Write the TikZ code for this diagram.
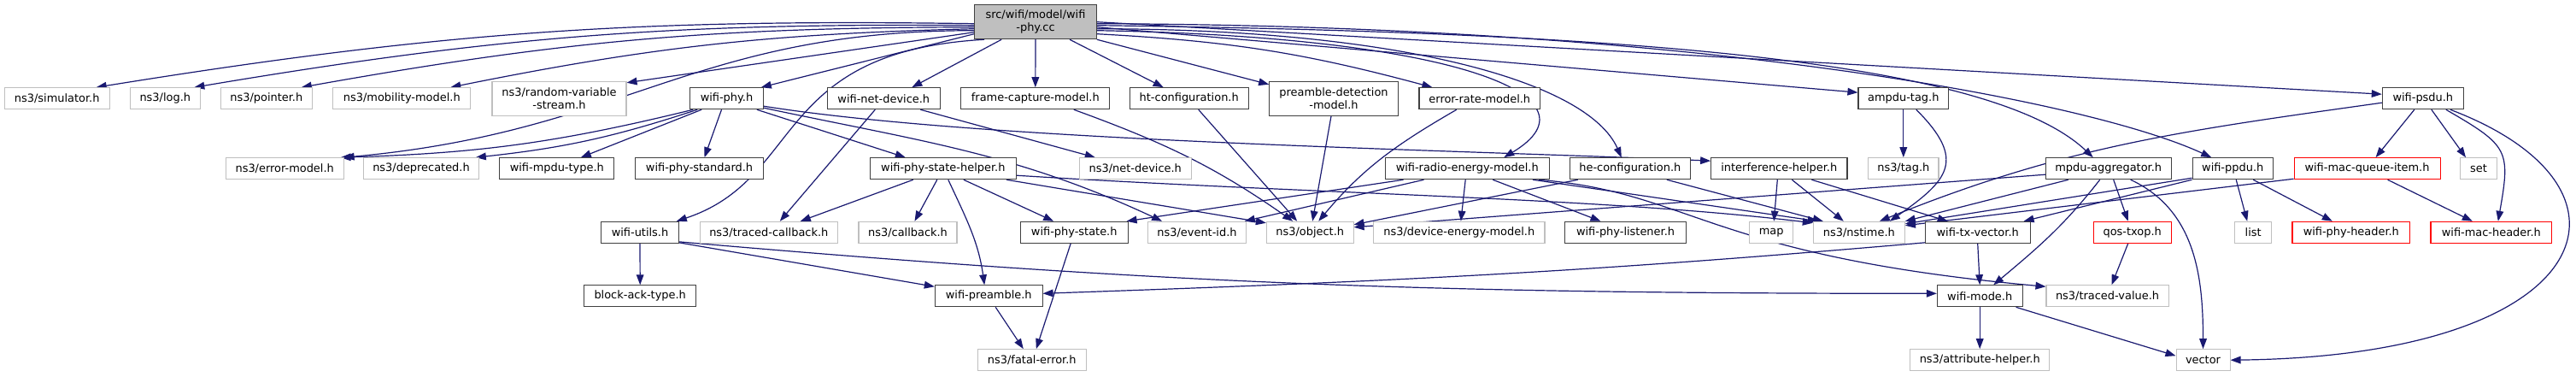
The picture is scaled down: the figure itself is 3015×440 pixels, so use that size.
\documentclass[tikz,border=0pt]{standalone}
\usepackage{fontspec}
\setmainfont{DejaVu Sans}
\usetikzlibrary{arrows.meta,calc}
\pgfdeclarelayer{bg}
\pgfsetlayers{bg,main}
\definecolor{edgec}{HTML}{191970}
\definecolor{blk}{HTML}{404040}
\definecolor{gry}{HTML}{BFBFBF}
\definecolor{rd}{HTML}{FF0000}
\newcommand{\mynode}[6]{\node[#1, minimum width=#5*0.75pt] (#2) at (#3,-#4) {#6};}
\begin{document}
\begin{tikzpicture}[x=0.75pt, y=0.75pt,
 bx/.style={draw, rectangle, fill=white, inner sep=0pt, minimum height=18.75pt, font=\fontsize{9.7}{11.3}\selectfont, align=center, line width=0.8pt},
 nb/.style={bx, draw=blk},
 ng/.style={bx, draw=gry},
 nr/.style={bx, draw=rd},
 tall/.style={minimum height=30pt},
 nroot/.style={bx, draw=blk, fill=gry, minimum height=30pt},
 lk/.style={draw=edgec, line width=0.9pt, -{Triangle[length=9pt,width=6.5pt]}}]
\useasboundingbox (0,0) rectangle (3015,-440);
% row 0
\mynode{nroot}{root}{1212}{25.7}{142.6}{src/wifi/model/wifi\\-phy.cc}
% row 1
\mynode{ng}{sim}{66.7}{115.2}{123.3}{ns3/simulator.h}
\mynode{ng}{log}{193.3}{115.2}{82}{ns3/log.h}
\mynode{ng}{pointer}{311.8}{115.2}{107}{ns3/pointer.h}
\mynode{ng}{mob}{470.3}{115.2}{161.3}{ns3/mobility-model.h}
\mynode{ng,tall}{rvs}{654.5}{115.3}{157}{ns3/random-variable\\-stream.h}
\mynode{nb}{wifiphy}{850.5}{115.2}{85.6}{wifi-phy.h}
\mynode{nb}{netdev}{1034.3}{115.2}{132}{wifi-net-device.h}
\mynode{nb}{framecap}{1211.8}{115.2}{173.7}{frame-capture-model.h}
\mynode{nb}{htconf}{1391.7}{115.2}{138.7}{ht-configuration.h}
\mynode{nb,tall}{preamdet}{1561}{115.3}{150.6}{preamble-detection\\-model.h}
\mynode{nb}{errrate}{1731.8}{115.2}{141.7}{error-rate-model.h}
\mynode{nb}{ampdutag}{2227.8}{115.2}{105.7}{ampdu-tag.h}
\mynode{nb}{psdu}{2835.8}{115.2}{95}{wifi-psdu.h}
% row 2
\mynode{ng}{errmodel}{333.2}{197.2}{137.7}{ns3/error-model.h}
\mynode{ng}{deprecated}{493}{197.2}{134.6}{ns3/deprecated.h}
\mynode{nb}{mpdutype}{651.8}{197.2}{134.3}{wifi-mpdu-type.h}
\mynode{nb}{phystd}{818.5}{197.2}{149.6}{wifi-phy-standard.h}
\mynode{nb}{statehelper}{1103.8}{197.2}{171}{wifi-phy-state-helper.h}
\mynode{ng}{netdevice}{1328.8}{197.2}{131}{ns3/net-device.h}
\mynode{nb}{radio}{1717.2}{197.2}{192.3}{wifi-radio-energy-model.h}
\mynode{nb}{heconf}{1907.8}{197.2}{141}{he-configuration.h}
\mynode{nb}{interf}{2082.3}{197.2}{159.3}{interference-helper.h}
\mynode{ng}{tag}{2227.8}{197.2}{82.3}{ns3/tag.h}
\mynode{nb}{mpduagg}{2467.7}{197.2}{146.7}{mpdu-aggregator.h}
\mynode{nb}{ppdu}{2613.2}{197.2}{94.3}{wifi-ppdu.h}
\mynode{nr}{mqitem}{2770.5}{197.2}{171}{wifi-mac-queue-item.h}
\mynode{ng}{set}{2901}{197.2}{42.6}{set}
% row 3
\mynode{nb}{utils}{749}{271.8}{90.6}{wifi-utils.h}
\mynode{ng}{tcb}{899.8}{271.8}{161}{ns3/traced-callback.h}
\mynode{ng}{callback}{1062.5}{271.8}{115}{ns3/callback.h}
\mynode{nb}{phystate}{1257.2}{271.8}{125.7}{wifi-phy-state.h}
\mynode{ng}{eventid}{1401}{271.8}{114.6}{ns3/event-id.h}
\mynode{ng}{object}{1533.2}{271.8}{101.7}{ns3/object.h}
\mynode{ng}{devenergy}{1707.8}{271.8}{200.3}{ns3/device-energy-model.h}
\mynode{nb}{listener}{1902.5}{271.8}{141.6}{wifi-phy-listener.h}
\mynode{ng}{map}{2073.2}{271.8}{51}{map}
\mynode{ng}{nstime}{2175.8}{271.8}{107}{ns3/nstime.h}
\mynode{nb}{txvector}{2314.7}{271.8}{122.7}{wifi-tx-vector.h}
\mynode{nr}{qostxop}{2495.7}{271.8}{90.7}{qos-txop.h}
\mynode{ng}{list}{2637.2}{271.8}{43}{list}
\mynode{nr}{phyheader}{2751.8}{271.8}{137.7}{wifi-phy-header.h}
\mynode{nr}{macheader}{2915.8}{271.8}{141.7}{wifi-mac-header.h}
% row 4
\mynode{nb}{blockack}{749.2}{346.3}{131}{block-ack-type.h}
\mynode{nb}{preamble}{1157.2}{346.3}{125.7}{wifi-preamble.h}
\mynode{nb}{mode}{2317.2}{346.3}{99.7}{wifi-mode.h}
\mynode{ng}{tracedval}{2466.5}{346.3}{143}{ns3/traced-value.h}
% row 5
\mynode{ng}{fatal}{1207.8}{421.2}{127}{ns3/fatal-error.h}
\mynode{ng}{attr}{2317.2}{421.2}{163}{ns3/attribute-helper.h}
\mynode{ng}{vector}{2578.5}{421.2}{63}{vector}

\begin{pgfonlayer}{bg}
% root
\draw[lk] ($(root.west)+(0,-2)$) to[bend right=5] ($(sim.north)+(46,0)$);
\draw[lk] ($(root.west)+(0,-4)$) to[bend right=5] ($(log.north)+(34,0)$);
\draw[lk] ($(root.west)+(0,-6)$) to[bend right=5] ($(pointer.north)+(41,0)$);
\draw[lk] ($(root.west)+(0,-8)$) to[bend right=5] ($(mob.north)+(57,0)$);
\draw[lk] ($(root.west)+(0,-10)$) .. controls +(-330,0) and +(330,30) .. (errmodel.north east);
\draw[lk] ($(root.west)+(0,-12)$) -- ($(rvs.north east)+(0,-2)$);
\draw[lk] ($(root.west)+(0,-14)$) -- ($(wifiphy.north east)+(-3,0)$);
\draw[lk] ($(root.south west)+(12,0)$) .. controls +(-250,-14) and +(150,50) .. ($(utils.north east)+(-3,0)$);
\draw[lk] ($(root.south west)+(32,0)$) -- ($(netdev.north)+(33,0)$);
\draw[lk] (root.south) -- (framecap.north);
\draw[lk] ($(root.south)+(40,0)$) -- ($(htconf.north)+(-30,0)$);
\draw[lk] (root.south east) -- ($(preamdet.north west)+(0,-4)$);
\draw[lk] ($(root.east)+(0,-14)$) to[bend left=6] ($(errrate.north west)+(16,0)$);
\draw[lk] ($(root.east)+(0,-10)$) .. controls +(417,-7) and +(120,72) .. ($(radio.north)+(43,0)$);
\draw[lk] ($(root.east)+(0,-8)$) .. controls +(350,0) and +(-40,90) .. ($(heconf.north)+(-10,0)$);
\draw[lk] ($(root.east)+(0,-6)$) -- ($(ampdutag.west)+(0,7)$);
\draw[lk] ($(root.east)+(0,-4)$) .. controls +(617,-8) and +(-120,114) .. ($(mpduagg.north)+(-18,0)$);
\draw[lk] ($(root.east)+(0,-2)$) .. controls +(717,-2) and +(-138,64) .. ($(ppdu.north)+(-25,0)$);
\draw[lk] (root.east) -- ($(psdu.west)+(0,5)$);
% wifi-phy.h
\draw[lk] ($(wifiphy.south west)+(4,0)$) to[bend left=6] ($(errmodel.north east)+(-4,0)$);
\draw[lk] ($(wifiphy.south west)+(9,0)$) to[bend left=6] ($(deprecated.north east)+(-4,0)$);
\draw[lk] ($(wifiphy.south west)+(14,0)$) -- ($(mpdutype.north)+(28,0)$);
\draw[lk] ($(wifiphy.south)+(-6,0)$) -- ($(phystd.north)+(6,0)$);
\draw[lk] ($(wifiphy.south east)+(-8,0)$) -- ($(statehelper.north)+(-44,0)$);
\draw[lk] ($(wifiphy.east)+(0,-9)$) .. controls +(257,-41) and +(-303,13) .. ($(interf.west)+(0,9)$);
\draw[lk] ($(wifiphy.east)+(0,-11)$) to[out=-12,in=155] ($(eventid.north west)+(17,0)$);
% wifi-net-device.h
\draw[lk] ($(netdev.south)+(-10,0)$) -- ($(tcb.north)+(13,0)$);
\draw[lk] ($(netdev.south)+(43,0)$) -- ($(netdevice.north)+(-47,0)$);
% to object
\draw[lk] ($(framecap.south)+(45,0)$) to[out=-20,in=145] ($(object.north)+(-20,0)$);
\draw[lk] ($(htconf.south)+(11,0)$) -- ($(object.north)+(-15,0)$);
\draw[lk] ($(preamdet.south)+(-3,0)$) -- ($(object.north)+(3,0)$);
\draw[lk] ($(errrate.south)+(-27,0)$) to[out=210,in=50] ($(object.north)+(10,0)$);
% ampdu-tag.h
\draw[lk] (ampdutag.south) -- (tag.north);
\draw[lk] ($(ampdutag.south)+(15,0)$) to[out=-45,in=35,looseness=1.6] ($(nstime.north)+(36,0)$);
% wifi-psdu.h
\draw[lk] ($(psdu.west)+(0,-5)$) to[out=188,in=22] ($(nstime.north)+(24,0)$);
\draw[lk] ($(psdu.south)+(-10,0)$) -- ($(mqitem.north)+(10,0)$);
\draw[lk] ($(psdu.south)+(10,0)$) -- ($(set.north)+(-15,0)$);
\draw[lk] ($(psdu.south)+(27,0)$) to[out=-30,in=80,looseness=1.5] ($(macheader.north)+(8,0)$);
\draw[lk] ($(psdu.south east)+(-16,0)$) .. controls +(243,-92) and +(430,5) .. (vector.east);
% wifi-phy-state-helper.h
\draw[lk] ($(statehelper.south)+(-35,0)$) -- ($(tcb.north)+(37,0)$);
\draw[lk] ($(statehelper.south)+(-7,0)$) -- ($(callback.north)+(8,0)$);
\draw[lk] ($(statehelper.south)+(6,0)$) to[out=-65,in=98] ($(preamble.north)+(-5,0)$);
\draw[lk] ($(statehelper.south)+(24,0)$) -- ($(phystate.north)+(-24,0)$);
\draw[lk] ($(statehelper.south east)+(-12,0)$) -- ($(object.north west)+(0,-2)$);
\draw[lk] ($(statehelper.east)+(0,-8)$) .. controls +(350,-22) and +(-250,30) .. ($(nstime.north west)+(0,-2)$);
% wifi-radio-energy-model.h
\draw[lk] ($(radio.south west)+(22,0)$) -- ($(phystate.north east)+(-2,0)$);
\draw[lk] ($(radio.south west)+(46,0)$) -- ($(eventid.north east)+(-2,0)$);
\draw[lk] ($(radio.south)+(-2,0)$) -- ($(devenergy.north)+(2,0)$);
\draw[lk] ($(radio.south)+(30,0)$) -- ($(listener.north)+(-29,0)$);
\draw[lk] ($(radio.south east)+(-20,0)$) -- ($(nstime.north west)+(6,0)$);
\draw[lk] ($(radio.south east)+(-13,0)$) .. controls +(180,-15) and +(-395,36) .. ($(tracedval.north west)+(0,-2)$);
% he-configuration.h
\draw[lk] ($(heconf.south west)+(10,0)$) -- ($(object.east)+(0,9)$);
\draw[lk] ($(heconf.south east)+(-28,0)$) -- ($(nstime.north west)+(12,0)$);
% interference-helper.h
\draw[lk] ($(interf.south)+(-2,0)$) -- ($(map.north)+(3,0)$);
\draw[lk] ($(interf.south)+(15,0)$) -- ($(nstime.north)+(-18,0)$);
\draw[lk] ($(interf.south)+(38,0)$) -- ($(txvector.north)+(-35,0)$);
% mpdu-aggregator.h
\draw[lk] ($(mpduagg.west)+(0,-7)$) -- ($(object.east)+(0,6)$);
\draw[lk] ($(mpduagg.south west)+(27,0)$) -- (nstime.north east);
\draw[lk] ($(mpduagg.south)+(-10,0)$) to[out=-128,in=40] ($(mode.north)+(16,0)$);
\draw[lk] ($(mpduagg.south)+(6,0)$) -- ($(qostxop.north)+(-5,0)$);
\draw[lk] ($(mpduagg.south)+(26,0)$) to[out=-25,in=90] (vector.north);
% wifi-ppdu.h
\draw[lk] ($(ppdu.south west)+(0,2)$) -- ($(nstime.east)+(0,10)$);
\draw[lk] (ppdu.south west) -- ($(txvector.north east)+(-8,0)$);
\draw[lk] ($(ppdu.south)+(4,0)$) -- ($(list.north)+(-7,0)$);
\draw[lk] ($(ppdu.south)+(24,0)$) -- ($(phyheader.north)+(-22,0)$);
% wifi-mac-queue-item.h
\draw[lk] ($(mqitem.south west)+(0,1)$) -- ($(nstime.east)+(0,8)$);
\draw[lk] ($(mqitem.south)+(24,0)$) -- ($(macheader.north)+(-22,0)$);
% wifi-tx-vector.h
\draw[lk] (txvector.south) -- (mode.north);
\draw[lk] ($(txvector.south west)+(0,1)$) .. controls +(-403,-35) and +(405,14) .. ($(preamble.east)+(0,3)$);
% wifi-utils.h
\draw[lk] (utils.south) -- (blockack.north);
\draw[lk] ($(utils.south east)+(0,1)$) -- ($(preamble.north west)+(0,-2)$);
\draw[lk] ($(utils.south east)+(0,2)$) .. controls +(573,-50) and +(-575,0) .. ($(mode.west)+(0,3)$);
% lower
\draw[lk] ($(phystate.south)+(-4,0)$) -- ($(fatal.north)+(5,0)$);
\draw[lk] ($(preamble.south)+(8,0)$) -- ($(fatal.north)+(-10,0)$);
\draw[lk] ($(qostxop.south)+(-5,0)$) -- ($(tracedval.north)+(5,0)$);
\draw[lk] (mode.south) -- (attr.north);
\draw[lk] ($(mode.south east)+(-8,0)$) -- ($(vector.west)+(0,5)$);
\end{pgfonlayer}
\end{tikzpicture}
\end{document}
